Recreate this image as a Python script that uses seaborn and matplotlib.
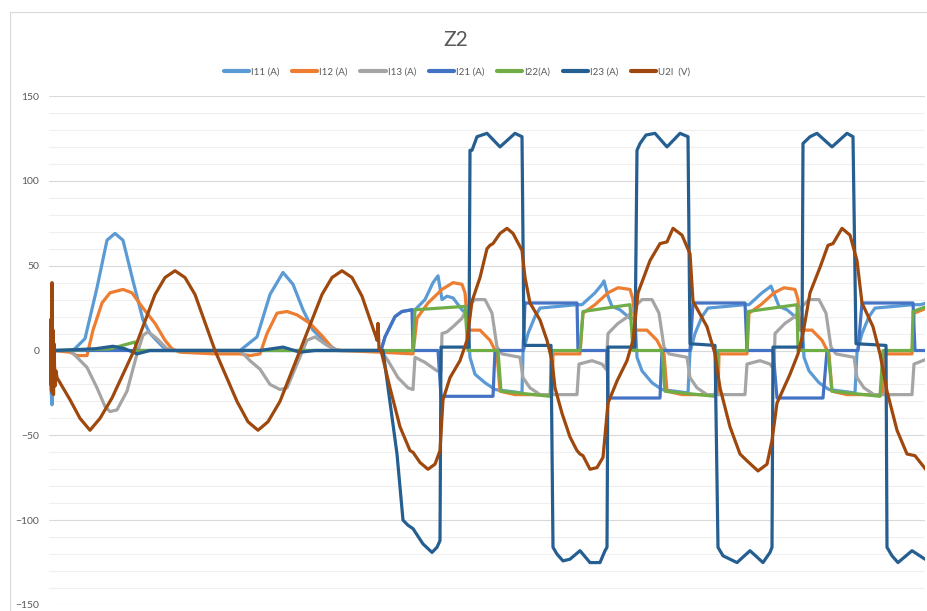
import numpy as np
import pandas as pd
import matplotlib.pyplot as plt
import seaborn as sns
from matplotlib.patches import Rectangle
from matplotlib.ticker import MultipleLocator

# waveforms read off the scope export, (sample, value) pairs
# sample axis is unlabeled in the original, values in A / V

I11 = [(0, 0), (1, -22), (2, -32), (3, -5), (4, 0), (23, 0), (35, 7), (47, 37), (57, 65), (65, 69),
       (73, 65), (83, 41), (93, 18), (100, 10), (113, 2), (120, 0), (190, 0), (207, 8), (220, 33),
       (233, 46), (243, 39), (253, 24), (263, 12), (277, 4), (287, 0), (331, 0),
       (335, 8), (345, 20), (352, 23), (362, 24), (365, 24), (375, 30), (383, 40), (388, 44),
       (392, 30), (397, 32), (403, 31), (412, 24), (417, 21), (420, -4), (425, -14), (435, -19),
       (445, -23), (472, -25), (473, -1), (478, 10), (485, 20), (490, 25), (527, 27), (532, 27),
       (545, 34), (552, 39), (554, 41), (558, 32), (562, 26), (570, 24), (580, 19), (585, 19),
       (587, -4), (592, -12), (602, -19), (612, -23), (638, -25), (640, -1), (645, 10), (652, 20),
       (658, 25), (695, 27), (699, 27), (712, 34), (719, 37), (721, 38), (725, 32), (729, 26),
       (737, 24), (747, 19), (752, 19), (754, -4), (759, -12), (769, -19), (779, -23), (805, -25),
       (807, -1), (812, 10), (819, 20), (825, 25), (863, 27), (870, 27), (877, 28)]

I12 = [(0, 0), (1, 2), (2, -3), (3, 0), (20, -1), (27, -3), (37, -3), (43, 12), (52, 28), (60, 34),
       (73, 36), (82, 34), (93, 25), (105, 16), (115, 6), (122, 1), (130, -1), (165, -2), (190, -2),
       (200, -3), (210, -2), (217, 10), (227, 22), (237, 23), (247, 21), (260, 16), (273, 8),
       (283, 1), (290, 0), (331, -1), (363, -2),
       (367, 19), (378, 28), (392, 36), (403, 40), (412, 39), (415, 34), (418, 12), (430, 12),
       (440, 6), (447, -2), (450, -24), (465, -26), (502, -26), (503, -2), (530, -2), (533, 22),
       (545, 27), (558, 34), (568, 37), (580, 36), (583, 30), (585, 12), (597, 12), (607, 6),
       (614, -2), (617, -24), (632, -26), (668, -26), (669, -2), (697, -2), (699, 22), (711, 27),
       (724, 34), (734, 37), (745, 36), (748, 30), (750, 12), (762, 12), (772, 6), (779, -2),
       (782, -24), (797, -26), (833, -26), (834, -2), (862, -2), (864, 22), (877, 25)]

I13 = [(0, 0), (20, 0), (27, -4), (37, -10), (47, -22), (55, -33), (60, -36), (67, -35), (77, -24),
       (87, -2), (93, 9), (98, 11), (107, 7), (117, 1), (125, 0), (190, 0), (200, -6), (210, -11),
       (220, -20), (230, -23), (237, -22), (247, -8), (257, 6), (265, 8), (277, 3), (287, 0), (331, 0),
       (338, -6), (348, -16), (358, -22), (363, -23), (365, -4), (375, -7), (387, -12), (391, -12),
       (392, 10), (397, 11), (403, 14), (412, 19), (418, 26), (425, 30), (435, 30), (442, 22),
       (447, 2), (452, -2), (470, -4), (473, -16), (480, -22), (490, -26), (527, -26), (529, -8),
       (542, -6), (552, -8), (556, -11), (558, 10), (568, 16), (578, 20), (585, 26), (592, 30),
       (602, 30), (609, 22), (614, 2), (619, -2), (637, -4), (640, -16), (647, -22), (657, -26),
       (695, -26), (697, -8), (710, -6), (720, -8), (724, -11), (725, 10), (735, 16), (745, 20),
       (752, 26), (759, 30), (769, 30), (776, 22), (781, 2), (786, -2), (804, -4), (807, -16),
       (814, -22), (824, -26), (862, -26), (864, -8), (877, -5)]

I21 = [(0, 0), (1, -10), (1.5, 3), (2, -25), (3, -5), (4, 2), (5, 0), (331, 0),
       (335, 8), (345, 20), (352, 23), (362, 24), (363, 0), (388, 0), (391, -27), (443, -27),
       (445, 0), (473, 0), (475, 28), (527, 28), (528, 0), (557, 0), (558, -28), (610, -28),
       (612, 0), (640, 0), (643, 28), (695, 28), (697, 0), (723, 0), (727, -28), (773, -28),
       (777, 0), (808, 0), (812, 28), (863, 28), (865, 0), (877, 0)]

I22 = [(0, 0), (1, -3), (2, 2), (5, 0), (60, 1), (85, 5), (87, -2), (90, 0), (363, 0),
       (365, 24), (415, 26), (418, 0), (448, 0), (451, -24), (500, -27), (502, 0), (530, 0),
       (533, 23), (580, 27), (583, 0), (612, 0), (615, -24), (665, -27), (668, 0), (697, 0),
       (698, 23), (747, 27), (748, 0), (778, 0), (782, -24), (830, -27), (833, 0), (862, 0),
       (863, 23), (877, 26)]

I23 = [(0, 0), (1, -8), (2, 4), (3, -3), (5, 0), (45, 1), (63, 2.5), (75, 1), (87, -2), (100, 0),
       (210, 0), (233, 2), (250, -1), (265, 0), (333, 0),
       (347, -61), (353, -100), (358, -103), (363, -105), (373, -114), (382, -119), (387, -116),
       (390, -112), (391, 2), (419, 2), (420, 118), (422, 118), (427, 126), (437, 128), (450, 120),
       (465, 128), (472, 126), (474, 4), (475, 3), (501, 3), (503, -116), (507, -120), (513, -124),
       (520, -123), (530, -118), (540, -125), (550, -125), (555, -118), (557, -116), (558, 2),
       (585, 2), (587, 118), (590, 122), (596, 127), (605, 128), (617, 120), (630, 128), (638, 126),
       (640, 4), (665, 3), (668, -116), (673, -121), (687, -125), (700, -118), (713, -125),
       (720, -119), (722, -116), (723, 2), (752, 2), (753, 122), (760, 126), (767, 128), (782, 120),
       (797, 128), (803, 126), (806, 4), (836, 3), (837, -116), (842, -121), (848, -125),
       (862, -118), (875, -123)]

U2L = [(0, 18), (0.5, -20), (1, 15), (1.5, -24), (2, 40), (2.5, -18), (3, 12), (3.5, -26), (4, 4),
       (5, -21), (6, -12), (7, -16), (20, -29), (30, -40), (40, -47), (50, -40), (62, -28), (84, 0),
       (105, 33), (115, 43), (125, 47), (135, 43), (145, 33), (165, 0), (187, -30), (198, -42),
       (208, -47), (218, -42), (230, -30), (250, 0), (272, 33), (282, 43), (292, 47), (302, 43),
       (312, 32), (326, 8), (327, 6), (328, 16), (329, 1), (331, 0),
       (340, -22), (350, -45), (360, -59), (363, -60), (370, -66), (378, -70), (385, -67), (390, -59),
       (393, -29), (400, -16), (410, -6), (417, 6), (422, 29), (430, 43), (437, 60), (440, 62),
       (443, 63), (450, 69), (457, 72), (463, 69), (472, 59), (475, 43), (480, 28), (490, 18),
       (497, 6), (502, -6), (505, -22), (512, -37), (520, -51), (527, -59), (530, -61), (533, -62),
       (540, -70), (547, -69), (553, -63), (558, -31), (567, -18), (577, -6), (583, 6), (588, 34),
       (600, 53), (610, 63), (617, 64), (623, 72), (632, 68), (640, 57), (643, 29), (657, 14),
       (665, -2), (670, -22), (680, -45), (690, -61), (697, -65), (708, -71), (717, -67), (722, -53),
       (727, -31), (740, -14), (748, -2), (753, 10), (760, 34), (770, 49), (778, 62), (783, 63),
       (792, 72), (800, 68), (807, 53), (812, 28), (823, 14), (830, -2), (837, -24), (847, -47),
       (857, -61), (865, -62), (877, -71)]

labels = ['I11 (A)', 'I12 (A)', 'I13 (A)', 'I21 (A)', 'I22(A)', 'I23 (A)', 'U2l  (V)']
series = [I11, I12, I13, I21, I22, I23, U2L]
colors = ['#5B9BD5', '#ED7D31', '#A5A5A5', '#4472C4', '#70AD47', '#255E91', '#9E480E']

frames = []
for lab, pts in zip(labels, series):
    d = pd.DataFrame(pts, columns=['t', 'value'])
    d['series'] = lab
    frames.append(d)
df = pd.concat(frames, ignore_index=True)

sns.set_style('white')
plt.rcParams['font.family'] = ['Lato', 'DejaVu Sans']
plt.rcParams['lines.solid_joinstyle'] = 'round'
plt.rcParams['lines.solid_capstyle'] = 'round'

fig = plt.figure(figsize=(9.27, 6.11), dpi=100)
ax = fig.add_axes([49 / 927, 1 - 605 / 611, 876 / 927, 509 / 611])

sns.lineplot(data=df, x='t', y='value', hue='series', hue_order=labels,
             palette=colors, sort=False, estimator=None, linewidth=2.3,
             legend=False, ax=ax)

ax.set_xlim(-1, 875)
ax.set_ylim(-150, 150)
ax.yaxis.set_major_locator(MultipleLocator(50))
ax.yaxis.set_minor_locator(MultipleLocator(10))
ax.grid(which='major', axis='y', color='#D9D9D9', linewidth=0.8)
ax.grid(which='minor', axis='y', color='#EFEFEF', linewidth=0.8)
ax.set_axisbelow(True)
ax.set_xticks([])
ax.set_xlabel('')
ax.set_ylabel('')
ax.tick_params(axis='y', which='both', length=0, pad=7, labelsize=7.5, labelcolor='#595959')
for s in ax.spines.values():
    s.set_visible(False)

fig.text(456 / 927, 1 - 40 / 611, 'Z2', ha='center', va='center',
         fontsize=15, color='#595959')

handles = ax.get_lines()[:7]
leg = fig.legend(handles, labels, loc='center', bbox_to_anchor=(457 / 927, 1 - 72 / 611),
                 ncol=7, frameon=False, fontsize=7, handlelength=2.6, handletextpad=0.2,
                 columnspacing=1.3, labelcolor='#595959')
for h in leg.legend_handles:
    h.set_linewidth(3)

fig.patches.append(Rectangle((10 / 927, -0.05), 1.0, 1.05 - 12 / 611, transform=fig.transFigure,
                             fill=False, edgecolor='#D9D9D9', linewidth=0.8))

fig.savefig('out.png', dpi=100)
